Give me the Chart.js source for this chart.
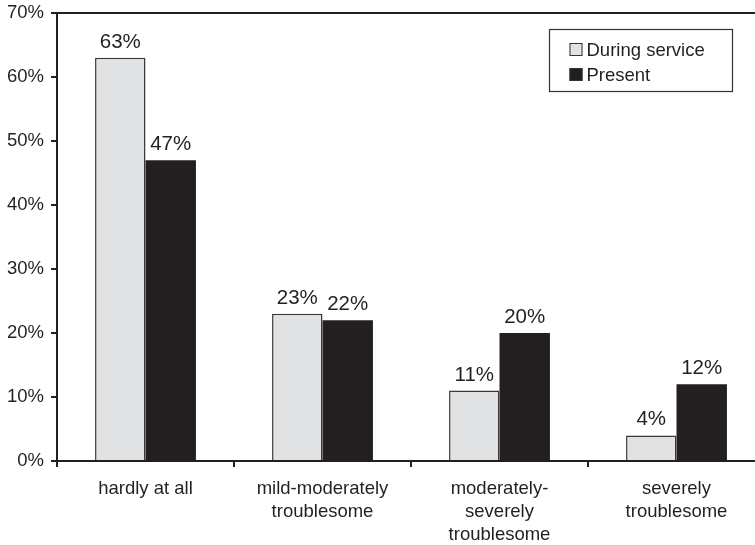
<!DOCTYPE html>
<html>
<head>
<meta charset="utf-8">
<script src="https://cdn.jsdelivr.net/npm/chart.js@4/dist/chart.umd.min.js"></script>
<style>
  html, body { margin: 0; padding: 0; background: #fff; overflow: hidden; }
  #wrap { width: 770px; height: 545px; position: relative; }
</style>
</head>
<body>
<div id="wrap"><canvas id="c"></canvas></div>
<script>
// Severity categories (multi-line axis labels)
const categories = [
  ['hardly at all'],
  ['mild-moderately', 'troublesome'],
  ['moderately-', 'severely', 'troublesome'],
  ['severely', 'troublesome']
];
const seriesNames = ['During service', 'Present'];
const duringService = [63, 23, 11, 4];
const present = [47, 22, 20, 12];
const yTicks = [0, 10, 20, 30, 40, 50, 60, 70];

const INK = '#231f20';
const FONT = 'Liberation Sans, Arial, Helvetica, sans-serif';
const FS = 18.5;       // axis and legend text
const FS_VALUE = 20.5; // value labels over bars

// Percent labels above each bar
const valueLabels = {
  id: 'valueLabels',
  afterDatasetsDraw(chart) {
    const ctx = chart.ctx;
    ctx.save();
    ctx.fillStyle = INK;
    ctx.font = FS_VALUE + 'px ' + FONT;
    ctx.textAlign = 'center';
    ctx.textBaseline = 'alphabetic';
    chart.data.datasets.forEach((ds, i) => {
      chart.getDatasetMeta(i).data.forEach((bar, j) => {
        ctx.fillText(ds.data[j] + '%', bar.x, bar.y - 10);
      });
    });
    ctx.restore();
  }
};

// Top frame line and boxed legend
const frame = {
  id: 'frame',
  afterDraw(chart) {
    const ctx = chart.ctx;
    const a = chart.chartArea;
    ctx.save();
    ctx.strokeStyle = INK;
    ctx.lineWidth = 2;
    ctx.beginPath();
    ctx.moveTo(a.left, a.top);
    ctx.lineTo(a.right, a.top);
    ctx.stroke();

    // legend
    const bx = 549.5, by = 29.5, bw = 183, bh = 62;
    ctx.lineWidth = 1.2;
    ctx.strokeStyle = '#333';
    ctx.strokeRect(bx, by, bw, bh);
    ctx.font = FS + 'px ' + FONT;
    ctx.textBaseline = 'middle';
    ctx.textAlign = 'left';
    chart.data.datasets.forEach((ds, i) => {
      const cy = by + 20 + i * 25;
      ctx.fillStyle = ds.backgroundColor;
      ctx.fillRect(bx + 20, cy - 6.5, 13, 13);
      ctx.lineWidth = 1;
      ctx.strokeStyle = '#333';
      ctx.strokeRect(bx + 20.5, cy - 6, 12, 12);
      ctx.fillStyle = INK;
      ctx.fillText(ds.label, bx + 37, cy + 1);
    });
    ctx.restore();
  }
};

new Chart(document.getElementById('c'), {
  type: 'bar',
  data: {
    labels: categories,
    datasets: [
      {
        label: seriesNames[0],
        data: duringService,
        backgroundColor: '#e1e2e4',
        borderColor: '#3a3a3a',
        borderWidth: 1.5,
        borderSkipped: 'bottom'
      },
      {
        label: seriesNames[1],
        data: present,
        backgroundColor: INK,
        borderColor: INK,
        borderWidth: 0
      }
    ]
  },
  options: {
    responsive: true,
    maintainAspectRatio: false,
    animation: false,
    layout: { padding: { top: 13, left: 0, right: 5, bottom: 0 } },
    categoryPercentage: 0.57,
    barPercentage: 1.0,
    plugins: {
      legend: { display: false },
      tooltip: { enabled: false }
    },
    scales: {
      x: {
        offset: true,
        grid: {
          offset: true,
          drawOnChartArea: false,
          drawTicks: true,
          tickLength: 6,
          color: INK,
          lineWidth: 2
        },
        border: { display: true, color: INK, width: 2 },
        ticks: {
          color: INK,
          font: { family: FONT, size: FS, lineHeight: 1.26 },
          padding: 10,
          maxRotation: 0,
          autoSkip: false
        },
        afterFit(s) { s.height = 84; s.paddingLeft = 0; s.paddingRight = 0; }
      },
      y: {
        min: 0,
        max: 70,
        afterBuildTicks(s) { s.ticks = yTicks.map(v => ({ value: v })); },
        grid: {
          drawOnChartArea: false,
          drawTicks: true,
          tickLength: 6,
          color: INK,
          lineWidth: 2
        },
        border: { display: true, color: INK, width: 2 },
        ticks: {
          color: INK,
          font: { family: FONT, size: FS },
          padding: 7,
          callback: v => v + '%'
        },
        afterFit(s) { s.width = 57; s.paddingTop = 0; s.paddingBottom = 0; }
      }
    }
  },
  plugins: [valueLabels, frame]
});
</script>
</body>
</html>
